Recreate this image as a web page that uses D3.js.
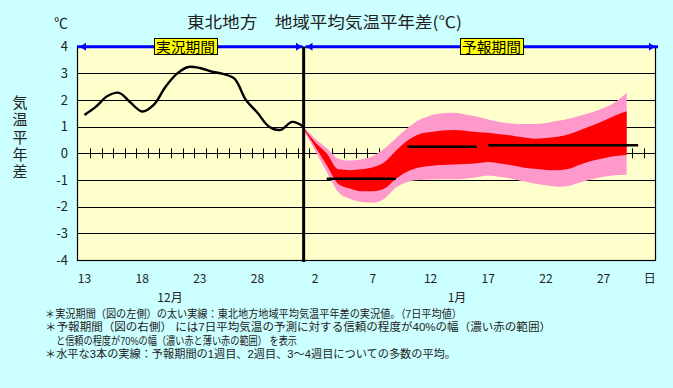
<!DOCTYPE html>
<html>
<head>
<meta charset="utf-8">
<script src="https://cdn.jsdelivr.net/npm/d3@7"></script>
<style>
  body { margin: 0; background: #ccffff; }
  svg { display: block; font-family: "Noto Sans CJK JP", sans-serif; }
</style>
</head>
<body>
<svg id="chart" width="673" height="388"></svg>
<script>
// 実況値 12/13〜1/1 (7日平均)
var observed = [1.44, 1.75, 2.15, 2.27, 1.9, 1.57, 1.82, 2.48, 2.98, 3.24,
                3.2, 3.07, 2.98, 2.8, 2.0, 1.52, 1.0, 0.88, 1.18, 1.0];
// 予報 1/1〜1/29 : 70%幅(薄い赤) と 40%幅(濃い赤)
var pinkUpper = [0.98, 0.55, 0.2, -0.2, -0.27, -0.22, -0.1, 0.18, 0.57, 0.95, 1.25, 1.42, 1.5, 1.52, 1.46,
                 1.38, 1.27, 1.18, 1.12, 1.1, 1.1, 1.14, 1.22, 1.3, 1.42, 1.54, 1.7, 1.92, 2.27];
var redUpper  = [0.95, 0.42, 0.0, -0.6, -0.63, -0.6, -0.52, -0.33, 0.1, 0.48, 0.72, 0.8, 0.86, 0.88, 0.85,
                 0.8, 0.77, 0.72, 0.67, 0.6, 0.55, 0.58, 0.62, 0.72, 0.88, 1.04, 1.22, 1.42, 1.58];
var redLower  = [0.9, 0.25, -0.45, -1.15, -1.32, -1.42, -1.42, -1.32, -0.95, -0.68, -0.53, -0.47, -0.44, -0.42, -0.4,
                 -0.37, -0.32, -0.38, -0.45, -0.53, -0.58, -0.62, -0.63, -0.58, -0.42, -0.28, -0.18, -0.1, -0.06];
var pinkLower = [0.85, 0.1, -0.7, -1.45, -1.7, -1.82, -1.85, -1.7, -1.28, -1.07, -1.0, -0.98, -0.97, -0.97, -0.95,
                 -0.9, -0.83, -0.88, -0.95, -1.05, -1.13, -1.2, -1.25, -1.22, -1.08, -0.97, -0.88, -0.82, -0.8];
// 1週目, 2週目, 3〜4週目の平均 (1月の日付)
var weekFrom  = [3, 10, 17];
var weekTo    = [9, 16, 30];
var weekValue = [-0.95, 0.25, 0.3];

var yTicks = [-4, -3, -2, -1, 0, 1, 2, 3, 4];
var xLabelIdx = [0, 5, 10, 15, 20, 25, 30, 35, 40, 45, 49];
var notes = [
  "＊実況期間（図の左側）の太い実線：東北地方地域平均気温平年差の実況値。（7日平均値）",
  "＊予報期間（図の右側） には7日平均気温の予測に対する信頼の程度が40%の幅（濃い赤の範囲）",
  "と信頼の程度が70%の幅（濃い赤と薄い赤の範囲） を表示",
  "＊水平な3本の実線：予報期間の1週目、2週目、3～4週目についての多数の平均。"
];

var svg = d3.select("#chart");
var plot = {left: 77, right: 656, top: 46.7, bottom: 260};

// categories: 12/13 .. 1/31
var dates = d3.timeDay.range(new Date(2023, 11, 13), new Date(2024, 1, 1));
var key = function (d) { return d3.timeFormat("%m-%d")(d); };
var x = d3.scaleBand().domain(dates.map(key)).range([78.7, 655.5]);
var cx = function (i) { return x(key(dates[i])) + x.bandwidth() / 2; };
var y = d3.scaleLinear().domain([-4, 4]).range([plot.bottom, plot.top]);
var today = 19; // index of 1/1

svg.append("rect").attr("width", 673).attr("height", 388).attr("fill", "#ccffff");
svg.append("rect")
  .attr("x", plot.left).attr("y", plot.top)
  .attr("width", plot.right - plot.left).attr("height", plot.bottom - plot.top)
  .attr("fill", "#ffffcc");

// grid
svg.append("g").selectAll("line")
  .data(yTicks.filter(function (d) { return d > -4 && d < 4; }))
  .enter().append("line")
  .attr("x1", plot.left).attr("x2", plot.right)
  .attr("y1", function (d) { return Math.round(y(d)) + 0.5; })
  .attr("y2", function (d) { return Math.round(y(d)) + 0.5; })
  .attr("stroke", "#000").attr("stroke-width", 1);

// ticks on the zero line (between days)
svg.append("g").selectAll("line")
  .data(d3.range(1, dates.length))
  .enter().append("line")
  .attr("x1", function (i) { return Math.round(x(key(dates[i]))) + 0.5; })
  .attr("x2", function (i) { return Math.round(x(key(dates[i]))) + 0.5; })
  .attr("y1", y(0) - 5).attr("y2", y(0) + 5)
  .attr("stroke", "#000");

// forecast bands
var fc = pinkUpper.map(function (d, i) {
  return {i: today + i, pu: d, ru: redUpper[i], rl: redLower[i], pl: pinkLower[i]};
});
svg.append("path").datum(fc)
  .attr("fill", "#ff99cc")
  .attr("d", d3.area().curve(d3.curveMonotoneX)
    .x(function (d) { return cx(d.i); })
    .y0(function (d) { return y(d.pl); })
    .y1(function (d) { return y(d.pu); }));
svg.append("path").datum(fc)
  .attr("fill", "#ff0000")
  .attr("d", d3.area().curve(d3.curveMonotoneX)
    .x(function (d) { return cx(d.i); })
    .y0(function (d) { return y(d.rl); })
    .y1(function (d) { return y(d.ru); }));

// week means
svg.append("g").selectAll("line")
  .data(weekValue)
  .enter().append("line")
  .attr("x1", function (d, i) { return cx(today + weekFrom[i] - 1); })
  .attr("x2", function (d, i) { return cx(today + weekTo[i] - 1); })
  .attr("y1", function (d) { return y(d); })
  .attr("y2", function (d) { return y(d); })
  .attr("stroke", "#000").attr("stroke-width", 2.5);

// observed
svg.append("path").datum(observed)
  .attr("fill", "none").attr("stroke", "#000").attr("stroke-width", 2.4)
  .attr("d", d3.line().curve(d3.curveCatmullRom)
    .x(function (d, i) { return cx(i); })
    .y(function (d) { return y(d); }));

// frame
svg.append("rect")
  .attr("x", plot.left + 0.5).attr("y", plot.top + 0.5)
  .attr("width", plot.right - plot.left - 1).attr("height", plot.bottom - plot.top)
  .attr("fill", "none").attr("stroke", "#000").attr("stroke-width", 1.2);

// today line
svg.append("line")
  .attr("x1", cx(today)).attr("x2", cx(today))
  .attr("y1", plot.top).attr("y2", plot.bottom + 2)
  .attr("stroke", "#000").attr("stroke-width", 3);

// period arrows
var blue = "#0000ff";
var ay = plot.top;
function arrow(x1, x2, tipL, tipR) {
  svg.append("line").attr("x1", x1).attr("x2", x2).attr("y1", ay).attr("y2", ay)
    .attr("stroke", blue).attr("stroke-width", 3);
  svg.append("path").attr("fill", blue)
    .attr("d", "M" + tipL + "," + ay + "L" + (tipL + 6) + "," + (ay - 4) + "L" + (tipL + 6) + "," + (ay + 4) + "Z");
  svg.append("path").attr("fill", blue)
    .attr("d", "M" + tipR + "," + ay + "L" + (tipR - 6) + "," + (ay - 4) + "L" + (tipR - 6) + "," + (ay + 4) + "Z");
}
arrow(plot.left, cx(today) - 1, 80, 302);
arrow(cx(today) + 2, 658, 306.5, 655);

function boxLabel(txt, x0, x1) {
  svg.append("rect").attr("x", x0 + 0.5).attr("y", 38.5).attr("width", x1 - x0).attr("height", 16)
    .attr("fill", "#ffff00").attr("stroke", "#000").attr("stroke-width", 1);
  svg.append("text").attr("x", (x0 + x1) / 2).attr("y", 51.5)
    .attr("text-anchor", "middle").attr("font-size", 14).attr("fill", "#000")
    .attr("textLength", x1 - x0 - 4).attr("lengthAdjust", "spacingAndGlyphs")
    .text(txt);
}
boxLabel("実況期間", 154, 217);
boxLabel("予報期間", 460, 523);

// y axis labels
var yAxis = svg.append("g")
  .attr("transform", "translate(68,0)")
  .call(d3.axisLeft(y).tickValues(yTicks).tickSize(0).tickPadding(0)
    .tickFormat(function (d) { return String(d); }));
yAxis.select(".domain").remove();
yAxis.selectAll("text").attr("font-size", 13).attr("fill", "#222")
  .attr("font-family", "'Noto Sans CJK JP', sans-serif");

// x axis labels
var xAxis = svg.append("g")
  .attr("transform", "translate(0,274)")
  .call(d3.axisBottom(x)
    .tickValues(xLabelIdx.map(function (i) { return key(dates[i]); }))
    .tickSize(0).tickPadding(0)
    .tickFormat(function (k, j) { return xLabelIdx[j] === dates.length - 1 ? "日" : +k.slice(3); }));
xAxis.select(".domain").remove();
xAxis.selectAll("text").attr("font-size", 12).attr("fill", "#222")
  .attr("font-family", "'Noto Sans CJK JP', sans-serif");

svg.append("text").attr("x", 170).attr("y", 302).attr("text-anchor", "middle")
  .attr("font-size", 12).attr("fill", "#222").text("12月");
svg.append("text").attr("x", 457).attr("y", 302).attr("text-anchor", "middle")
  .attr("font-size", 12).attr("fill", "#222").text("1月");

// titles
svg.append("text").attr("x", 187).attr("y", 28).attr("font-size", 16).attr("fill", "#222")
  .attr("textLength", 275).attr("lengthAdjust", "spacingAndGlyphs")
  .text("東北地方　地域平均気温平年差(℃)");
svg.append("text").attr("x", 54).attr("y", 28).attr("font-size", 14).attr("fill", "#222").text("℃");
svg.append("text")
  .attr("x", 20).attr("y", 95)
  .attr("writing-mode", "vertical-rl")
  .style("writing-mode", "vertical-rl")
  .attr("letter-spacing", 2.3)
  .attr("font-size", 15).attr("fill", "#222")
  .text("気温平年差");

// notes
var noteX = [45, 45, 56, 45];
var noteW = [417, 506, 241, 411];
svg.append("g").selectAll("text")
  .data(notes)
  .enter().append("text")
  .attr("x", function (d, i) { return noteX[i]; })
  .attr("y", function (d, i) { return 318 + i * 13.3; })
  .attr("font-family", "'Liberation Sans', 'Noto Sans CJK JP', sans-serif")
  .attr("font-size", 11).attr("fill", "#222")
  .attr("textLength", function (d, i) { return noteW[i]; })
  .attr("lengthAdjust", "spacingAndGlyphs")
  .text(function (d) { return d; });
</script>
</body>
</html>
